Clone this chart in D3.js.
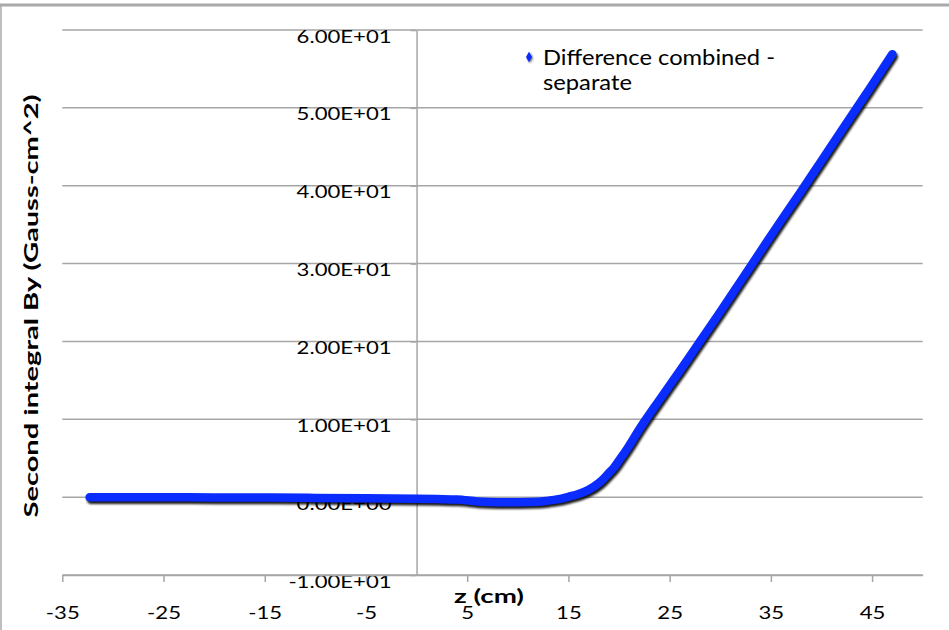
<!DOCTYPE html>
<html><head><meta charset="utf-8">
<script src="https://cdn.jsdelivr.net/npm/d3@7"></script>
<style>body{margin:0;background:#fff}text{font-family:Lato,"Open Sans",sans-serif;fill:#000}</style>
</head><body>
<svg id="c" width="949" height="630"></svg>
<script>
// ---- data ----
const zValues = [-32.3,-30,-25,-20,-15,-10,-5,0,2,4,6,8,10,12,13,14,15,16,17,18,18.5,19,19.5,20,21,22,24,26,28,30,32,34,36,38,40,42,44,46,47];
const diffValues = [0.0,0.0,0.0,-0.05,-0.05,-0.1,-0.15,-0.2,-0.25,-0.3,-0.55,-0.65,-0.65,-0.6,-0.45,-0.25,0.05,0.4,0.95,1.8,2.4,3.1,3.8,4.7,6.6,8.7,12.5,16.2,20.0,23.8,27.7,31.6,35.5,39.3,43.2,47.1,51.0,54.9,56.9];
const xTicks = [-35,-25,-15,-5,5,15,25,35,45];
const xTickLabels = ["-35","-25","-15","-5","5","15","25","35","45"];
const yTicks = [-10,0,10,20,30,40,50,60];
const yTickLabels = ["-1.00E+01","0.00E+00","1.00E+01","2.00E+01","3.00E+01","4.00E+01","5.00E+01","6.00E+01"];
const legendLines = ["Difference combined -","separate"];
const xTitle = "z (cm)";
const yTitle = "Second integral By  (Gauss-cm^2)";

const W = 949, H = 630;
const svg = d3.select("#c");
const x = d3.scaleLinear().domain([-35, 50]).range([62.3, 922.7]);
const y = d3.scaleLinear().domain([-10, 60]).range([575, 30]);
const grid = "#a6a6a6";

// frame
svg.append("rect").attr("x",0).attr("y",3.5).attr("width",W).attr("height",3).attr("fill","#a9a9a9");
svg.append("line").attr("x1",1).attr("x2",1).attr("y1",5).attr("y2",H).attr("stroke","#a9a9a9").attr("stroke-width",1.5);

// defs
const defs = svg.append("defs");
const f = defs.append("filter").attr("id","blur").attr("x","-10%").attr("y","-10%").attr("width","120%").attr("height","120%");
f.append("feGaussianBlur").attr("stdDeviation",1.1);

// gridlines
svg.append("g").selectAll("line").data(yTicks).join("line")
  .attr("x1", x.range()[0]).attr("x2", x.range()[1])
  .attr("y1", d => y(d)).attr("y2", d => y(d))
  .attr("stroke", grid).attr("stroke-width", 1.5);

// y axis
const yAx = svg.append("g").attr("transform", `translate(${x(0)},0)`)
  .call(d3.axisLeft(y).tickValues(yTicks).tickSize(6).tickSizeOuter(0)
        .tickFormat((d,i) => yTickLabels[i]));
yAx.attr("font-family", null).attr("font-size", null);
yAx.select(".domain").attr("stroke", grid).attr("stroke-width", 1.5);
yAx.selectAll(".tick line").attr("stroke", grid).attr("stroke-width", 1.5);
yAx.selectAll(".tick text").attr("x", -25).attr("y", 12).attr("dy", null)
  .style("font-size","17px").attr("fill","#000");

// x axis
const xAx = svg.append("g").attr("transform", `translate(0,${y(-10)})`)
  .call(d3.axisBottom(x).tickValues(xTicks).tickSize(7).tickSizeOuter(0)
        .tickFormat((d,i) => xTickLabels[i]));
xAx.attr("font-family", null).attr("font-size", null);
xAx.select(".domain").attr("stroke", grid).attr("stroke-width", 1.5);
xAx.selectAll(".tick line").attr("stroke", grid).attr("stroke-width", 1.5);
xAx.selectAll(".tick text").attr("y", 44).attr("dy", null)
  .style("font-size","17px").attr("fill","#000");

// stretch tick texts by common factor
const refW = yAx.selectAll(".tick text").filter(d => d === 60).node().getComputedTextLength();
const sxTick = 95 / refW;
svg.selectAll(".tick text").each(function(){
  const w = this.getComputedTextLength();
  d3.select(this).attr("textLength", w * sxTick).attr("lengthAdjust","spacingAndGlyphs");
});

// series
const line = d3.line().x((d,i) => x(zValues[i])).y(d => y(d)).curve(d3.curveMonotoneX);
svg.append("path").datum(diffValues).attr("d", line)
  .attr("fill","none").attr("stroke","#000").attr("stroke-opacity",0.9)
  .attr("stroke-width",8.5).attr("stroke-linecap","round").attr("stroke-linejoin","round")
  .attr("transform","translate(1.5,2.5)").attr("filter","url(#blur)");
svg.append("path").datum(diffValues).attr("d", line)
  .attr("fill","none").attr("stroke","#0a2cff")
  .attr("stroke-width",8.5).attr("stroke-linecap","round").attr("stroke-linejoin","round");

// legend
const sym = d3.symbol().type(d3.symbolDiamond).size(32);
svg.append("path").attr("d", sym()).attr("transform","translate(530,58)").attr("fill","#000").attr("opacity",0.6).attr("filter","url(#blur)");
svg.append("path").attr("d", sym()).attr("transform","translate(529,57)").attr("fill","#0a2cff");
const lg = svg.append("g");
const l1 = lg.append("text").attr("x",543).attr("y",65).style("font-size","22px").text(legendLines[0]);
const l2 = lg.append("text").attr("x",543).attr("y",90).style("font-size","22px").text(legendLines[1]);
const sxLeg = 232 / l1.node().getComputedTextLength();
[l1,l2].forEach(t => t.attr("textLength", t.node().getComputedTextLength()*sxLeg).attr("lengthAdjust","spacingAndGlyphs"));

// axis titles
const xt = svg.append("text").attr("x",489).attr("y",603).attr("text-anchor","middle")
  .style("font-size","18px").style("font-weight","bold").text(xTitle);
xt.attr("textLength", 70).attr("lengthAdjust","spacingAndGlyphs");
const yt = svg.append("text").attr("transform","translate(38,306) rotate(-90)").attr("text-anchor","middle")
  .style("font-size","18px").style("font-weight","bold").text(yTitle);
yt.attr("textLength", 423).attr("lengthAdjust","spacingAndGlyphs");
</script>
</body></html>
